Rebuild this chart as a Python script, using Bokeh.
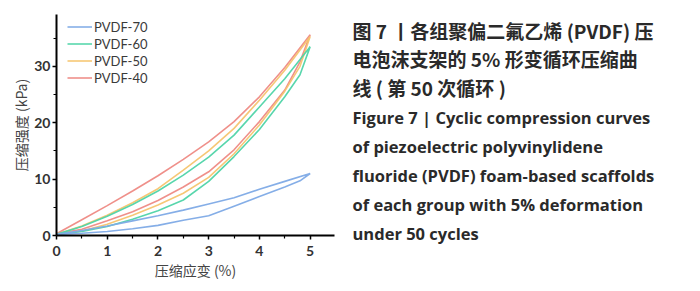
from bokeh.plotting import figure
from bokeh.models import Range1d, Legend, LegendItem, FixedTicker
from bokeh.layouts import row, column
from bokeh.embed import file_html
from bokeh.resources import INLINE
from bokeh.core.properties import value

# ---------------- data ----------------
strain_load = [0, 0.5, 1, 1.5, 2, 2.5, 3, 3.5, 4, 4.5, 5]
strain_unload = [5, 4.8, 4.5, 4, 3.5, 3, 2.5, 2, 1.5, 1, 0.5, 0]

series_names = ["PVDF-70", "PVDF-60", "PVDF-50", "PVDF-40"]

pvdf70_load = [0.2, 0.9, 1.7, 2.6, 3.5, 4.5, 5.6, 6.7, 8.2, 9.6, 11.0]
pvdf70_unload = [11.0, 9.7, 8.6, 6.9, 5.2, 3.5, 2.7, 1.8, 1.2, 0.7, 0.4, 0.2]
pvdf60_load = [0.2, 1.6, 3.4, 5.5, 7.9, 10.7, 13.9, 17.8, 22.8, 27.8, 33.5]
pvdf60_unload = [33.5, 28.5, 24.6, 18.8, 14.0, 9.6, 6.3, 4.4, 2.9, 1.6, 0.7, 0.2]
pvdf50_load = [0.2, 1.7, 3.6, 5.8, 8.3, 11.6, 15.0, 19.0, 24.0, 29.3, 35.3]
pvdf50_unload = [35.3, 30.0, 25.6, 19.6, 14.5, 10.3, 7.5, 5.4, 3.6, 2.0, 0.8, 0.2]
pvdf40_load = [0.3, 2.8, 5.3, 7.9, 10.6, 13.5, 16.6, 20.2, 24.6, 29.8, 35.6]
pvdf40_unload = [35.6, 30.8, 25.8, 20.2, 15.2, 11.3, 8.6, 6.2, 4.2, 2.6, 1.1, 0.3]

x_ticks = [0, 1, 2, 3, 4, 5]
x_minor = [0.5, 1.5, 2.5, 3.5, 4.5]
y_ticks = [0, 10, 20, 30]
y_minor = [5, 15, 25, 35]

x_title = "压缩应变 (%)"
y_title = "压缩强度 (kPa)"

caption_cn = ["图 7 丨各组聚偏二氟乙烯 (PVDF) 压",
              "电泡沫支架的 5% 形变循环压缩曲",
              "线 ( 第 50 次循环 )"]
caption_en = ["Figure 7 | Cyclic compression curves",
              "of piezoelectric polyvinylidene",
              "fluoride (PVDF) foam-based scaffolds",
              "of each group with 5% deformation",
              "under 50 cycles"]

colors = {"PVDF-70": "#7eaae6", "PVDF-60": "#4fd4a8",
          "PVDF-50": "#f6c46e", "PVDF-40": "#ee8a84"}

# ---------------- chart ----------------
p = figure(width=348, height=291, x_range=Range1d(0, 5.48), y_range=Range1d(0, 39.2),
           output_backend="svg", toolbar_location=None,
           min_border_left=56, min_border_right=14, min_border_top=14, min_border_bottom=56)
p.outline_line_color = None
p.grid.grid_line_color = None

data = {
    "PVDF-70": (pvdf70_load, pvdf70_unload),
    "PVDF-60": (pvdf60_load, pvdf60_unload),
    "PVDF-50": (pvdf50_load, pvdf50_unload),
    "PVDF-40": (pvdf40_load, pvdf40_unload),
}
renderers = {}
for name in ["PVDF-40", "PVDF-50", "PVDF-60", "PVDF-70"]:
    load, unload = data[name]
    xs = strain_load + strain_unload
    ys = load + unload
    renderers[name] = p.line(xs, ys, line_color=colors[name], line_width=1.6, line_alpha=0.95)

for ax in (p.xaxis[0], p.yaxis[0]):
    ax.axis_line_color = "black"
    ax.axis_line_width = 2
    ax.major_tick_line_color = "black"
    ax.major_tick_line_width = 1.5
    ax.minor_tick_line_color = "black"
    ax.minor_tick_line_width = 1.2
    ax.major_tick_in = 0
    ax.major_tick_out = 4
    ax.minor_tick_in = 0
    ax.minor_tick_out = 3
    ax.major_label_text_font = "Lato"
    ax.major_label_text_font_style = "bold"
    ax.major_label_text_font_size = "14px"
    ax.major_label_text_color = "#333333"
    ax.axis_label_text_font = "Noto Sans CJK SC"
    ax.axis_label_text_font_style = "normal"
    ax.axis_label_text_font_size = "14px"
    ax.axis_label_text_color = "#444444"

p.xaxis.ticker = FixedTicker(ticks=x_ticks, minor_ticks=x_minor)
p.yaxis.ticker = FixedTicker(ticks=y_ticks, minor_ticks=y_minor)
p.xaxis.axis_label = x_title
p.yaxis.axis_label = y_title
p.xaxis.major_label_standoff = 6
p.yaxis.major_label_standoff = 2
p.xaxis.axis_label_standoff = 1
p.yaxis.axis_label_standoff = 0

legend = Legend(items=[LegendItem(label=n, renderers=[renderers[n]]) for n in series_names],
                location=(11, 149), margin=0, padding=0, spacing=0,
                glyph_width=25, glyph_height=17, label_height=17, label_standoff=2,
                border_line_color=None, background_fill_alpha=0,
                label_text_font="Lato", label_text_font_size="13px",
                label_text_color="#3a3a3a")
p.add_layout(legend)

# ---------------- caption (page-pixel coordinates) ----------------
t = figure(width=352, height=291, x_range=Range1d(348, 700), y_range=Range1d(291, 0),
           output_backend="svg", toolbar_location=None, x_axis_type=None, y_axis_type=None,
           min_border=0, title=None)
t.outline_line_color = None
t.grid.grid_line_color = None

cn_y = [30, 58, 87]
en_y = [117, 146, 175, 204, 233]
t.text(x=[352] * len(caption_cn), y=cn_y, text=caption_cn,
       text_font=value("Noto Sans CJK SC"), text_font_size="19px", text_font_style="bold",
       text_baseline="middle", text_color="#2a2a2a")
t.text(x=[352] * len(caption_en), y=en_y, text=caption_en,
       text_font=value("Open Sans"), text_font_size="16.5px", text_font_style="bold",
       text_baseline="middle", text_color="#2a2a2a")

layout = row(p, column(t), spacing=0)
open("out.html", "w").write(file_html(layout, INLINE))
